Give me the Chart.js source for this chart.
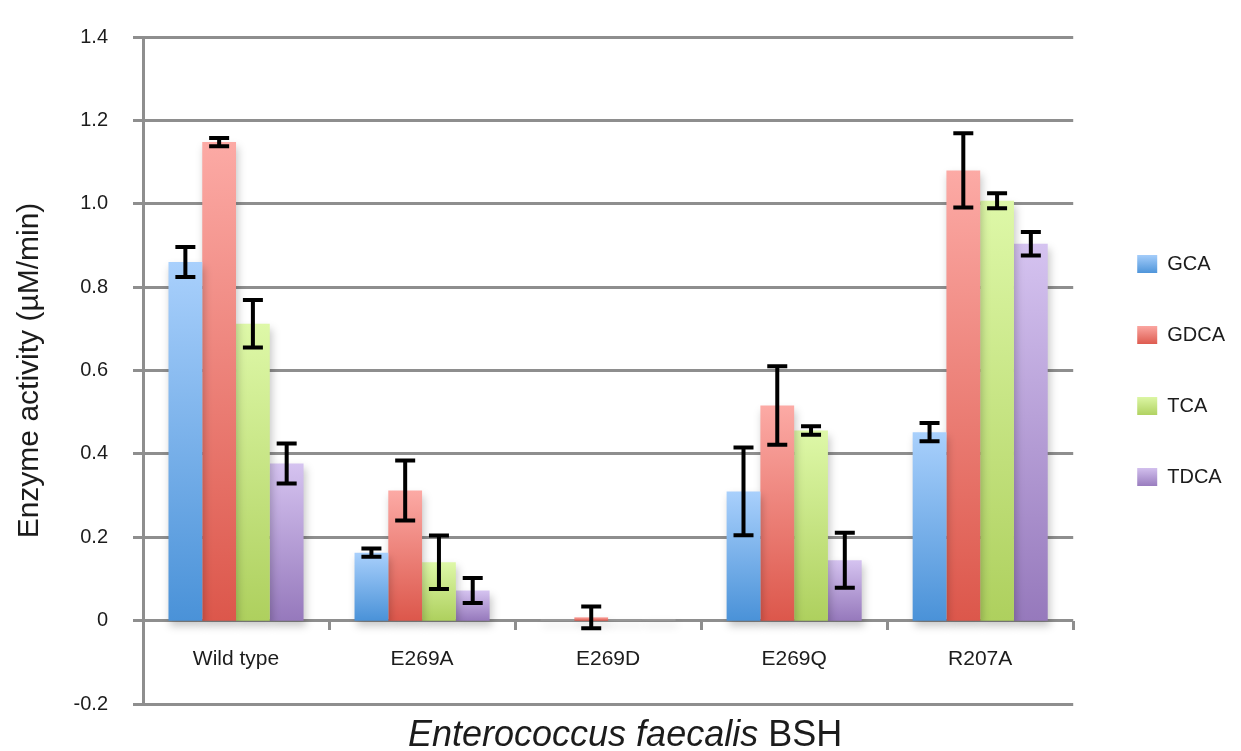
<!DOCTYPE html>
<html>
<head>
<meta charset="utf-8">
<script src="https://cdn.jsdelivr.net/npm/chart.js@4.4.1/dist/chart.umd.min.js"></script>
<style>
  html, body { margin: 0; padding: 0; background: #fff; }
  #wrap { width: 1241px; height: 751px; }
</style>
</head>
<body>
<div id="wrap"><canvas id="chart" width="1241" height="751"></canvas></div>
<script>
// data
var categories = ['Wild type', 'E269A', 'E269D', 'E269Q', 'R207A'];
var seriesNames = ['GCA', 'GDCA', 'TCA', 'TDCA'];
var gcaValues  = [0.860, 0.163, 0.003, 0.310, 0.452];
var gdcaValues = [1.148, 0.312, 0.008, 0.516, 1.080];
var tcaValues  = [0.712, 0.140, 0.003, 0.456, 1.007];
var tdcaValues = [0.377, 0.072, 0.004, 0.145, 0.904];
var gcaErrors  = [0.036, 0.010, 0, 0.105, 0.022];
var gdcaErrors = [0.010, 0.072, 0.026, 0.094, 0.089];
var tcaErrors  = [0.057, 0.064, 0, 0.010, 0.018];
var tdcaErrors = [0.048, 0.030, 0, 0.066, 0.028];
var yTickLabels = ['-0.2', '0', '0.2', '0.4', '0.6', '0.8', '1.0', '1.2', '1.4'];
var yTitle = 'Enzyme activity (\u00b5M/min)';
var xTitleItalic = 'Enterococcus faecalis';
var xTitlePlain = ' BSH';

var seriesValues = [gcaValues, gdcaValues, tcaValues, tdcaValues];
var seriesErrors = [gcaErrors, gdcaErrors, tcaErrors, tdcaErrors];

// styles
var FONT = '"Liberation Sans", Arial, Helvetica, sans-serif';
var gridColor = '#8e8e8e';
var textColor = '#1c1c1c';
var seriesTop    = ['#a9d0fc', '#fcaaa5', '#def8a8', '#d5c3f0'];
var seriesBottom = ['#4a92d8', '#dc574b', '#aed05e', '#9679bc'];
var seriesMid    = ['#7bb0ea', '#ec8078', '#c6e483', '#b59ed6'];

function barFill(i) {
  return function (context) {
    var chart = context.chart;
    if (!chart.chartArea || context.type !== 'data') return seriesMid[i];
    var y = chart.scales.y;
    var v = context.parsed ? context.parsed.y : context.raw;
    var top = y.getPixelForValue(Math.max(v, 0));
    var bottom = y.getPixelForValue(Math.min(v, 0));
    if (bottom - top < 2) return '#9a9a9a';
    var g = chart.ctx.createLinearGradient(0, top, 0, bottom);
    g.addColorStop(0, seriesTop[i]);
    g.addColorStop(1, seriesBottom[i]);
    return g;
  };
}

var datasets = seriesNames.map(function (name, i) {
  return {
    label: name,
    data: seriesValues[i],
    backgroundColor: barFill(i),
    borderWidth: 0,
    categoryPercentage: 0.726,
    barPercentage: 1.0
  };
});

// soft drop shadow under the bars
var barShadow = {
  id: 'barShadow',
  beforeDatasetsDraw: function (chart) {
    var ctx = chart.ctx;
    ctx.save();
    ctx.shadowColor = 'rgba(0,0,0,0.22)';
    ctx.shadowBlur = 8;
    ctx.shadowOffsetX = 2;
    ctx.shadowOffsetY = 5;
  },
  afterDatasetsDraw: function (chart) {
    chart.ctx.restore();
  }
};

var errorBars = {
  id: 'errorBars',
  afterDatasetsDraw: function (chart) {
    var ctx = chart.ctx;
    var y = chart.scales.y;
    ctx.save();
    ctx.shadowColor = 'rgba(0,0,0,0)';
    ctx.strokeStyle = '#000';
    ctx.lineWidth = 4;
    ctx.lineCap = 'butt';
    chart.data.datasets.forEach(function (ds, di) {
      var meta = chart.getDatasetMeta(di);
      meta.data.forEach(function (bar, i) {
        var err = seriesErrors[di][i];
        if (!err) return;
        var v = ds.data[i];
        var yHi = y.getPixelForValue(v + err);
        var yLo = y.getPixelForValue(v - err);
        var x = bar.x;
        ctx.beginPath();
        ctx.moveTo(x, yHi);
        ctx.lineTo(x, yLo);
        ctx.moveTo(x - 10, yHi);
        ctx.lineTo(x + 10, yHi);
        ctx.moveTo(x - 10, yLo);
        ctx.lineTo(x + 10, yLo);
        ctx.stroke();
      });
    });
    ctx.restore();
  }
};

// legend swatches get the same top-to-bottom gradient as the bars
var legendFill = {
  id: 'legendFill',
  beforeDraw: function (chart) {
    var lg = chart.legend;
    if (!lg || !lg.legendHitBoxes) return;
    lg.legendItems.forEach(function (item, i) {
      var hb = lg.legendHitBoxes[i];
      if (!hb) return;
      var g = chart.ctx.createLinearGradient(0, hb.top, 0, hb.top + hb.height);
      g.addColorStop(0, seriesTop[i]);
      g.addColorStop(1, seriesBottom[i]);
      item.fillStyle = g;
    });
  }
};

var xTitle = {
  id: 'xTitle',
  afterDraw: function (chart) {
    var ctx = chart.ctx;
    var area = chart.chartArea;
    ctx.save();
    var fItalic = 'italic 36px ' + FONT;
    var fPlain = '36px ' + FONT;
    ctx.font = fItalic;
    var w1 = ctx.measureText(xTitleItalic).width;
    ctx.font = fPlain;
    var w2 = ctx.measureText(xTitlePlain).width;
    var cx = (area.left + area.right) / 2 + 17;
    var x0 = cx - (w1 + w2) / 2;
    var yBase = 746;
    ctx.fillStyle = textColor;
    ctx.textBaseline = 'alphabetic';
    ctx.textAlign = 'left';
    ctx.font = fItalic;
    ctx.fillText(xTitleItalic, x0, yBase);
    ctx.font = fPlain;
    ctx.fillText(xTitlePlain, x0 + w1, yBase);
    ctx.restore();
  }
};

new Chart(document.getElementById('chart'), {
  type: 'bar',
  data: { labels: categories, datasets: datasets },
  plugins: [barShadow, errorBars, legendFill, xTitle],
  options: {
    responsive: false,
    animation: false,
    layout: { padding: { left: 0, top: 37, right: 6, bottom: 47 } },
    plugins: {
      tooltip: { enabled: false },
      legend: {
        position: 'right',
        align: 'center',
        labels: {
          boxWidth: 20,
          boxHeight: 18,
          padding: 51,
          color: textColor,
          font: { family: FONT, size: 20 },
          generateLabels: function (chart) {
            return chart.data.datasets.map(function (ds, i) {
              return {
                text: ds.label,
                fillStyle: seriesMid[i],
                strokeStyle: 'rgba(0,0,0,0)',
                lineWidth: 0,
                hidden: false,
                datasetIndex: i,
                fontColor: textColor
              };
            });
          }
        }
      }
    },
    scales: {
      x: {
        position: { y: 0 },
        offset: true,
        afterFit: function (s) { s.height = 0; },
        grid: {
          display: true,
          drawOnChartArea: false,
          drawTicks: true,
          tickLength: 9,
          offset: true,
          color: gridColor,
          lineWidth: 3
        },
        border: { display: false },
        ticks: {
          padding: 17,
          color: textColor,
          maxRotation: 0,
          autoSkip: false,
          font: { family: FONT, size: 21 }
        }
      },
      y: {
        position: 'left',
        min: -0.2,
        max: 1.4,
        afterFit: function (s) { s.width = 143; },
        ticks: {
          stepSize: 0.2,
          padding: 25,
          color: textColor,
          font: { family: FONT, size: 20 },
          callback: function (value, index) { return yTickLabels[index]; }
        },
        grid: {
          color: gridColor,
          lineWidth: 3,
          tickLength: 10
        },
        border: { display: true, color: gridColor, width: 3 },
        title: {
          display: true,
          text: yTitle,
          color: textColor,
          padding: { top: 12, bottom: 0 },
          font: { family: FONT, size: 30 }
        }
      },
      y2: {
        position: 'right',
        display: true,
        afterFit: function (s) { s.width = 13; },
        grid: { display: false },
        ticks: { display: false },
        border: { display: false }
      }
    }
  }
});
</script>
</body>
</html>
